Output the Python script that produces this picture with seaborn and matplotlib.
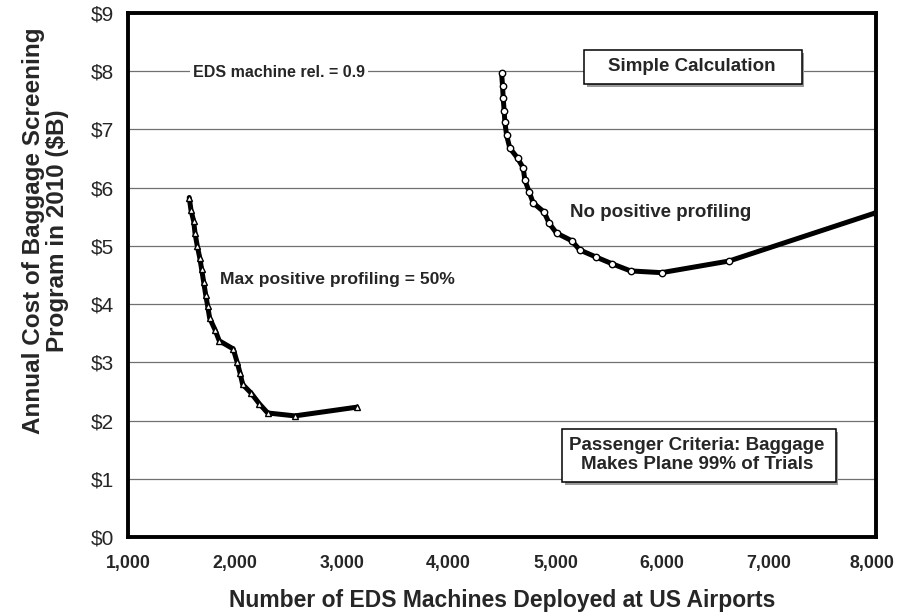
import pandas as pd
import numpy as np
import matplotlib.pyplot as plt
import seaborn as sns
from matplotlib.ticker import FuncFormatter
from matplotlib.patches import Rectangle
from matplotlib.transforms import ScaledTranslation

# ----------------------------- data -----------------------------
prof_machines = [1573, 1589, 1615, 1627, 1648, 1671, 1689, 1708, 1727, 1746, 1764,
                 1814, 1854, 1985, 2020, 2048, 2073, 2153, 2228, 2307, 2562, 3142]
prof_cost = [5.83, 5.62, 5.42, 5.22, 5.00, 4.80, 4.60, 4.38, 4.16, 3.96, 3.76,
             3.56, 3.37, 3.23, 3.01, 2.82, 2.62, 2.47, 2.29, 2.13, 2.08, 2.23]

noprof_machines = [4496, 4505, 4511, 4520, 4527, 4543, 4573, 4645, 4698, 4714, 4754,
                   4791, 4894, 4941, 5010, 5151, 5228, 5378, 5534, 5703, 5993, 6625, 8000]
noprof_cost = [7.97, 7.75, 7.54, 7.32, 7.12, 6.90, 6.68, 6.51, 6.34, 6.13, 5.93,
               5.74, 5.58, 5.39, 5.22, 5.09, 4.93, 4.81, 4.69, 4.57, 4.54, 4.74, 5.57]

x_ticks = [1000, 2000, 3000, 4000, 5000, 6000, 7000, 8000]
y_ticks = list(range(0, 10))

prof_df = pd.DataFrame({"machines": prof_machines, "cost": prof_cost})
noprof_df = pd.DataFrame({"machines": noprof_machines, "cost": noprof_cost})

# ----------------------------- figure -----------------------------
sns.set_style("white")
plt.rcParams["font.family"] = ["Liberation Sans", "DejaVu Sans"]

fig = plt.figure(figsize=(8.97, 6.13), dpi=100)
ax = fig.add_axes([0.1427, 0.124, 0.8339, 0.8548])

line_kw = dict(color="black", linewidth=3.6, markersize=4.6,
               markerfacecolor="white", markeredgecolor="black",
               markeredgewidth=1.0, sort=False, legend=False, ax=ax)
sns.lineplot(data=prof_df, x="machines", y="cost", marker="^", **line_kw)
sns.lineplot(data=noprof_df, x="machines", y="cost", marker="o", **line_kw)

ax.set_xlim(1000, 8000)
ax.set_ylim(0, 9)
ax.set_xticks(x_ticks)
ax.set_yticks(y_ticks)
ax.xaxis.set_major_formatter(FuncFormatter(lambda v, p: f"{int(v):,}"))
ax.yaxis.set_major_formatter(FuncFormatter(lambda v, p: f"\\${int(v)}"))
ax.grid(axis="y", color="#707070", linewidth=0.9)
ax.grid(axis="x", visible=False)
ax.set_axisbelow(True)

for s in ax.spines.values():
    s.set_linewidth(2.8)
    s.set_color("black")

ax.tick_params(axis="x", direction="out", length=4, width=0.8, labelsize=12.8, pad=9)
ax.tick_params(axis="y", direction="out", length=4, width=0.8, labelsize=15, pad=6)
xlabels = ax.get_xticklabels()
for lbl in xlabels:
    lbl.set_fontweight("bold")
# nudge the last label so it stays inside the figure
xlabels[-1].set_transform(xlabels[-1].get_transform() +
                          ScaledTranslation(-4 / 100, 0, fig.dpi_scale_trans))

ax.set_xlabel("Number of EDS Machines Deployed at US Airports",
              fontsize=16.5, fontweight="bold", labelpad=12)
ax.set_ylabel("Annual Cost of Baggage Screening\nProgram in 2010 (\\$B)",
              fontsize=17.5, fontweight="bold", linespacing=1.05)
ax.yaxis.set_label_coords(-0.079, 0.585)

# ----------------------------- annotations -----------------------------
ax.text(1608, 7.97, "EDS machine rel. = 0.9", fontsize=11.5, fontweight="bold",
        va="center", ha="left",
        bbox=dict(facecolor="white", edgecolor="none", pad=2))
ax.text(1861, 4.42, "Max positive profiling = 50%", fontsize=12.6, fontweight="bold",
        va="center", ha="left")
ax.text(5135, 5.57, "No positive profiling", fontsize=13.5, fontweight="bold",
        va="center", ha="left")


def box(x0, x1, y0, y1):
    # shadow then white box with black frame
    ax.add_patch(Rectangle((x0 + 25, y0 - 0.05), x1 - x0, y1 - y0,
                           facecolor="#9a9a9a", edgecolor="none", zorder=4))
    ax.add_patch(Rectangle((x0, y0), x1 - x0, y1 - y0,
                           facecolor="white", edgecolor="black", linewidth=1.1, zorder=5))


box(5266, 7305, 7.78, 8.37)
ax.text(6271, 8.08, "Simple Calculation", fontsize=13.5, fontweight="bold",
        va="center", ha="center", zorder=6)

box(5060, 7623, 0.945, 1.856)
ax.text(6323, 1.41, "Passenger Criteria: Baggage\nMakes Plane 99% of Trials",
        fontsize=13.5, fontweight="bold", va="center", ha="center",
        linespacing=1.1, zorder=6)

fig.savefig("out.png", dpi=100)
plt.close(fig)
